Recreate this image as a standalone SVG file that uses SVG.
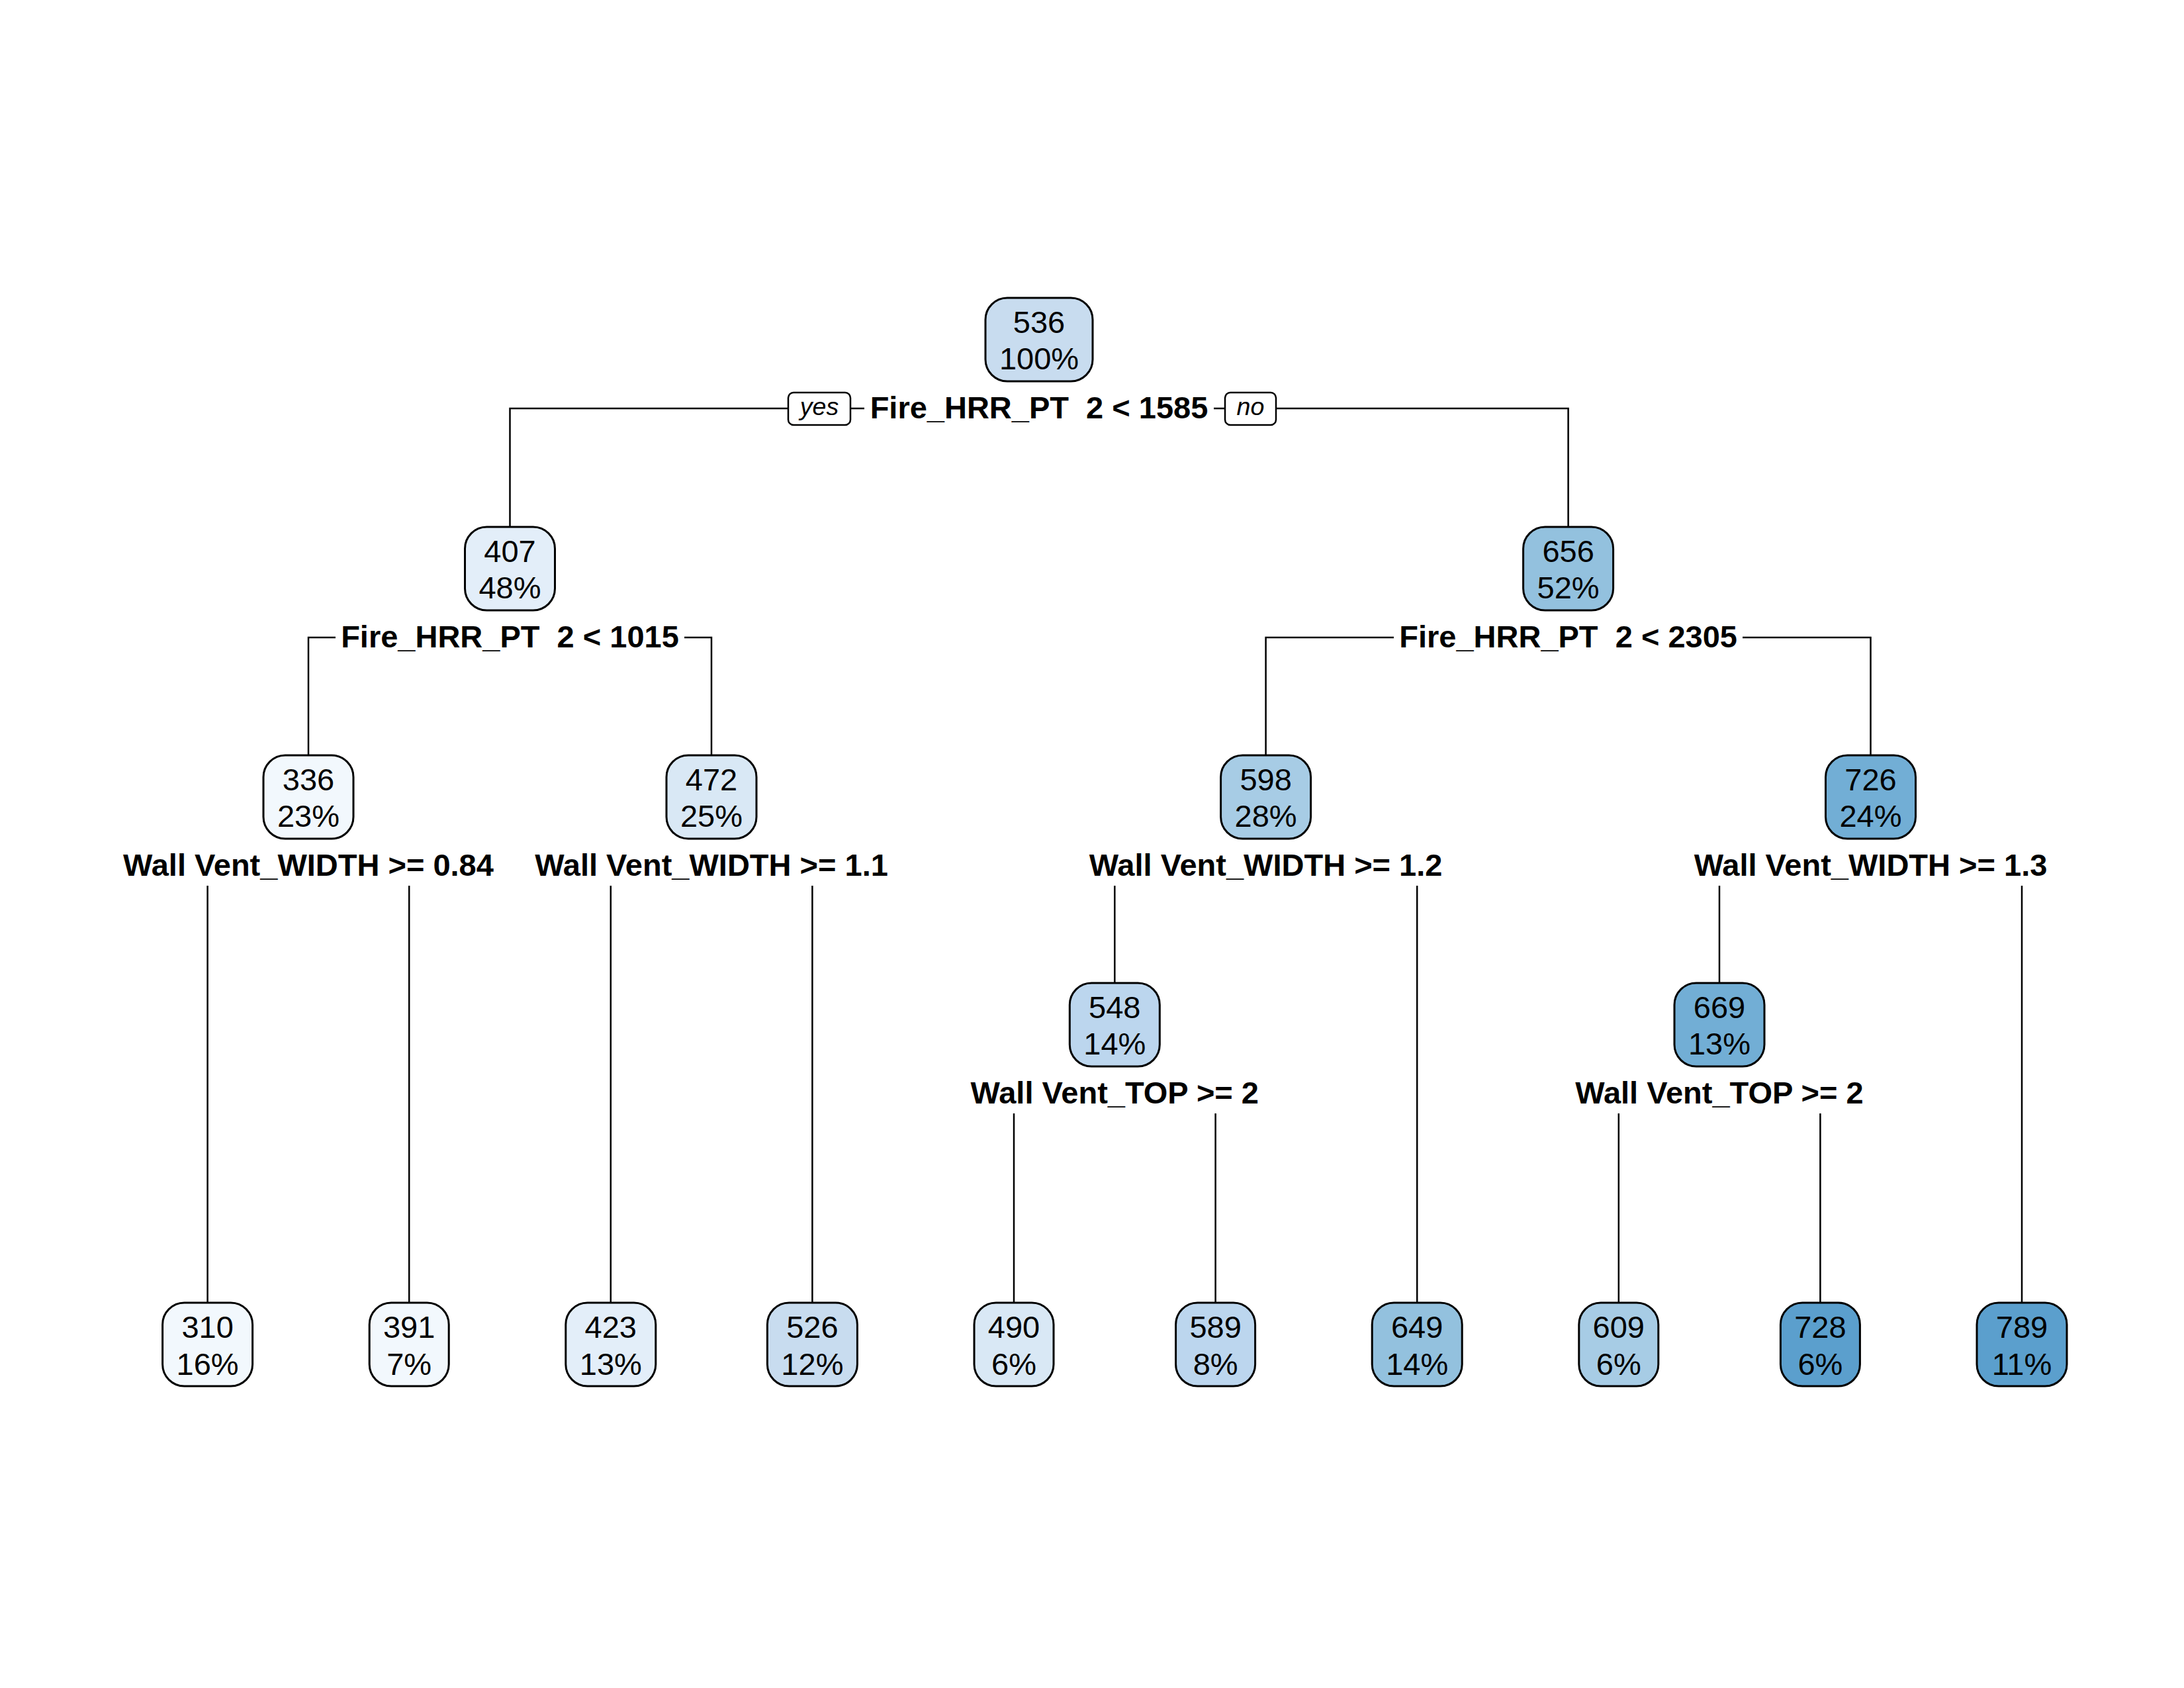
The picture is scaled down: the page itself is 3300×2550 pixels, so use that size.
<svg xmlns="http://www.w3.org/2000/svg" width="3300" height="2550" viewBox="0 0 3300 2550">
<style>
.box { stroke:#000; stroke-width:3; }
.t { font-family:"Liberation Sans", Arial, Helvetica, sans-serif; font-size:47px; text-anchor:middle; fill:#000; }
.lab { font-weight:bold; white-space:pre; }
.yn { font-style:italic; font-size:37.6px; }
.ynbox { fill:#fff; stroke:#000; stroke-width:2.5; }
.conn { fill:none; stroke:#000; stroke-width:2.5; }
</style>
<rect width="3300" height="2550" fill="#fff"/>
<g id="connectors" class="conn">
  <path d="M770.5 796 V617 H1191 M1285 617 H1306 M1834 617 H1851 M1928 617 H2369.6 V796"/>
  <path d="M466 1141 V963 H507 M1034 963 H1075 V1141"/>
  <path d="M1912.6 1141 V963 H2106 M2633 963 H2826.5 V1141"/>
  <path d="M313.6 1338 V1968 M618.2 1338 V1968"/>
  <path d="M922.8 1338 V1968 M1227.4 1338 V1968"/>
  <path d="M1684.3 1338 V1485 M2141.2 1338 V1968"/>
  <path d="M2598 1338 V1485 M3055 1338 V1968"/>
  <path d="M1532 1682 V1968 M1836.6 1682 V1968"/>
  <path d="M2445.8 1682 V1968 M2750.4 1682 V1968"/>
</g>
<g id="node1">
  <rect class="box" x="1489" y="450" width="162" height="126" rx="33" fill="#C8DCEF"/>
  <text class="t" x="1570" y="503">536</text>
  <text class="t" x="1570" y="558">100%</text>
  <text class="t lab" x="1570" y="632" xml:space="preserve">Fire_HRR_PT  2 &lt; 1585</text>
  <rect class="ynbox" x="1191" y="593" width="94" height="49" rx="8"/>
  <text class="t yn" x="1238" y="627">yes</text>
  <rect class="ynbox" x="1851" y="593" width="77" height="49" rx="8"/>
  <text class="t yn" x="1889.5" y="627">no</text>
</g>
<g id="node2">
  <rect class="box" x="702.5" y="796" width="136" height="126" rx="33" fill="#E3EEF9"/>
  <text class="t" x="770.5" y="849">407</text>
  <text class="t" x="770.5" y="904">48%</text>
  <text class="t lab" x="770.5" y="978" xml:space="preserve">Fire_HRR_PT  2 &lt; 1015</text>
</g>
<g id="node3">
  <rect class="box" x="2301.6" y="796" width="136" height="126" rx="33" fill="#93C1DE"/>
  <text class="t" x="2369.6" y="849">656</text>
  <text class="t" x="2369.6" y="904">52%</text>
  <text class="t lab" x="2369.6" y="978" xml:space="preserve">Fire_HRR_PT  2 &lt; 2305</text>
</g>
<g id="node4">
  <rect class="box" x="398" y="1141" width="136" height="126" rx="33" fill="#F2F8FD"/>
  <text class="t" x="466" y="1194">336</text>
  <text class="t" x="466" y="1249">23%</text>
  <text class="t lab" x="466" y="1323">Wall Vent_WIDTH &gt;= 0.84</text>
</g>
<g id="node5">
  <rect class="box" x="1007" y="1141" width="136" height="126" rx="33" fill="#D9E8F5"/>
  <text class="t" x="1075" y="1194">472</text>
  <text class="t" x="1075" y="1249">25%</text>
  <text class="t lab" x="1075" y="1323">Wall Vent_WIDTH &gt;= 1.1</text>
</g>
<g id="node6">
  <rect class="box" x="1844.6" y="1141" width="136" height="126" rx="33" fill="#A7CCE5"/>
  <text class="t" x="1912.6" y="1194">598</text>
  <text class="t" x="1912.6" y="1249">28%</text>
  <text class="t lab" x="1912.6" y="1323">Wall Vent_WIDTH &gt;= 1.2</text>
</g>
<g id="node7">
  <rect class="box" x="2758.5" y="1141" width="136" height="126" rx="33" fill="#72AED5"/>
  <text class="t" x="2826.5" y="1194">726</text>
  <text class="t" x="2826.5" y="1249">24%</text>
  <text class="t lab" x="2826.5" y="1323">Wall Vent_WIDTH &gt;= 1.3</text>
</g>
<g id="node12">
  <rect class="box" x="1616.3" y="1485" width="136" height="126" rx="33" fill="#BCD6EE"/>
  <text class="t" x="1684.3" y="1538">548</text>
  <text class="t" x="1684.3" y="1593">14%</text>
  <text class="t lab" x="1684.3" y="1667">Wall Vent_TOP &gt;= 2</text>
</g>
<g id="node14">
  <rect class="box" x="2530" y="1485" width="136" height="126" rx="33" fill="#72AED5"/>
  <text class="t" x="2598" y="1538">669</text>
  <text class="t" x="2598" y="1593">13%</text>
  <text class="t lab" x="2598" y="1667">Wall Vent_TOP &gt;= 2</text>
</g>
<g id="leaf8">
  <rect class="box" x="245.6" y="1968" width="136" height="126" rx="33" fill="#F2F8FD"/>
  <text class="t" x="313.6" y="2021">310</text>
  <text class="t" x="313.6" y="2077">16%</text>
</g>
<g id="leaf9">
  <rect class="box" x="558.2" y="1968" width="120" height="126" rx="33" fill="#F2F8FD"/>
  <text class="t" x="618.2" y="2021">391</text>
  <text class="t" x="618.2" y="2077">7%</text>
</g>
<g id="leaf10">
  <rect class="box" x="854.8" y="1968" width="136" height="126" rx="33" fill="#E3EEF9"/>
  <text class="t" x="922.8" y="2021">423</text>
  <text class="t" x="922.8" y="2077">13%</text>
</g>
<g id="leaf11">
  <rect class="box" x="1159.4" y="1968" width="136" height="126" rx="33" fill="#C8DCEF"/>
  <text class="t" x="1227.4" y="2021">526</text>
  <text class="t" x="1227.4" y="2077">12%</text>
</g>
<g id="leaf24">
  <rect class="box" x="1472" y="1968" width="120" height="126" rx="33" fill="#D9E8F5"/>
  <text class="t" x="1532" y="2021">490</text>
  <text class="t" x="1532" y="2077">6%</text>
</g>
<g id="leaf25">
  <rect class="box" x="1776.6" y="1968" width="120" height="126" rx="33" fill="#BCD6EE"/>
  <text class="t" x="1836.6" y="2021">589</text>
  <text class="t" x="1836.6" y="2077">8%</text>
</g>
<g id="leaf13">
  <rect class="box" x="2073.2" y="1968" width="136" height="126" rx="33" fill="#93C1DE"/>
  <text class="t" x="2141.2" y="2021">649</text>
  <text class="t" x="2141.2" y="2077">14%</text>
</g>
<g id="leaf28">
  <rect class="box" x="2385.8" y="1968" width="120" height="126" rx="33" fill="#A7CCE5"/>
  <text class="t" x="2445.8" y="2021">609</text>
  <text class="t" x="2445.8" y="2077">6%</text>
</g>
<g id="leaf29">
  <rect class="box" x="2690.4" y="1968" width="120" height="126" rx="33" fill="#5B9FCD"/>
  <text class="t" x="2750.4" y="2021">728</text>
  <text class="t" x="2750.4" y="2077">6%</text>
</g>
<g id="leaf15">
  <rect class="box" x="2987" y="1968" width="136" height="126" rx="33" fill="#5B9FCD"/>
  <text class="t" x="3055" y="2021">789</text>
  <text class="t" x="3055" y="2077">11%</text>
</g>
</svg>
